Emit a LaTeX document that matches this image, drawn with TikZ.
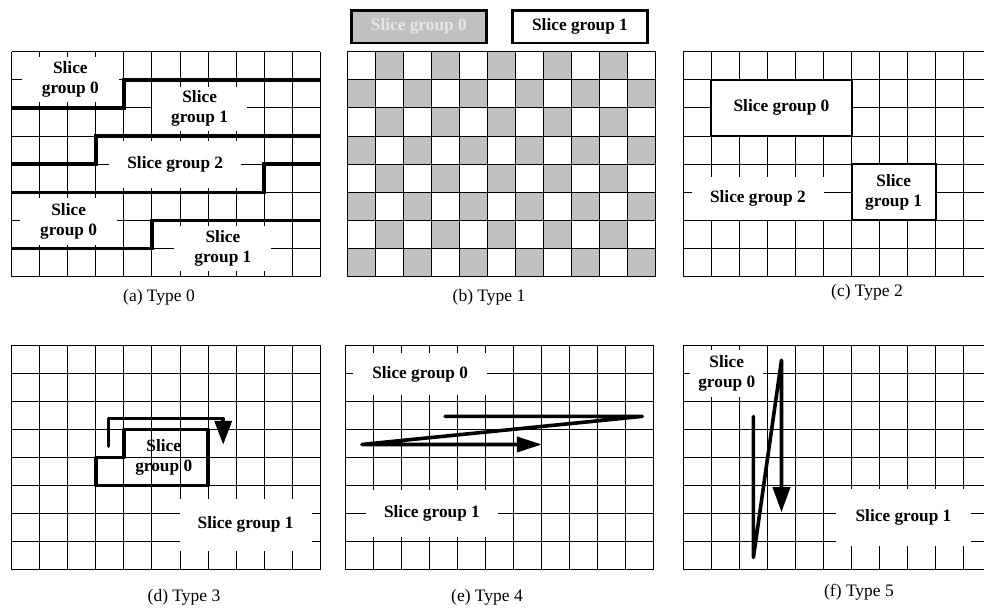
\documentclass[tikz,border=0pt]{standalone}
\usepackage{fontspec}
\setmainfont{Liberation Serif}
\usetikzlibrary{arrows.meta}
\definecolor{sgray}{RGB}{192,192,192}
\definecolor{lgray}{RGB}{232,232,232}
\newcommand{\slicegrid}{%
  \foreach \i in {0,...,11} \draw[gridln] (\i,0) -- (\i,8);
  \foreach \j in {0,...,8} \draw[gridln] (0,\j) -- (11,\j);}

\begin{document}
\begin{tikzpicture}[x=1pt,y=-1pt,
  gridln/.style={line width=1pt},
  border/.style={line width=3.4pt},
  lab/.style={font=\fontsize{17.3}{20}\selectfont\bfseries, align=center, inner sep=0pt},
  wlab/.style={lab, fill=white},
  legbox/.style={lab, draw, line width=2.4pt, minimum width=135pt, minimum height=32.6pt},
  cell/.style={x=28.05pt, y=-28.1pt},
  scanln/.style={line width=3.6pt, line cap=round, line join=round},
  typecap/.style={font=\fontsize{17.5}{20}\selectfont}]
\useasboundingbox (0,0) rectangle (984,610);

\begin{scope}[shift={(11.7,51.7)}, cell]
  \slicegrid
  \node[wlab, minimum width=97pt, minimum height=45pt] (a0) at (2.09,0.99) {Slice\\group 0};
  \node[wlab, minimum width=95pt, minimum height=44pt] (a1) at (6.7,2.03) {Slice\\group 1};
  \node[wlab, minimum width=132pt, minimum height=47pt] (a2) at (5.83,4.0) {Slice group 2};
  \node[wlab, minimum width=97pt, minimum height=47pt] (a3) at (2.03,6.03) {Slice\\group 0};
  \node[wlab, minimum width=97pt, minimum height=45pt] (a4) at (7.53,7.0) {Slice\\group 1};
  \draw[border] (0,2) -- (4,2) -- (4,1) -- (11,1);
  \draw[border] (0,4) -- (3,4) -- (3,3) -- (11,3);
  \draw[border] (0,5) -- (9,5) -- (9,4) -- (11,4);
  \draw[border] (0,7) -- (5,7) -- (5,6) -- (11,6);
\end{scope}

\node[legbox, fill=sgray, text=lgray] (leg0) at (418.8,26.8) {Slice group 0};
\node[legbox, fill=white] (leg1) at (580,26.8) {Slice group 1};
\begin{scope}[shift={(347.3,51.7)}, cell]
  \foreach \r in {0,2,4,6}{
    \foreach \c in {1,3,...,9} \fill[sgray] (\c,\r) rectangle ++(1,1);
    \foreach \c in {0,2,...,10} \fill[sgray] (\c,\r+1) rectangle ++(1,1);}
  \slicegrid
\end{scope}

\begin{scope}[shift={(683.3,51.7)}, cell]
  \slicegrid
  \node[wlab, draw, line width=1.8pt, minimum width=140.25pt, minimum height=56.2pt] (c0) at (3.5,2) {Slice group 0};
  \node[wlab, draw, line width=1.8pt, minimum width=84.15pt, minimum height=56.2pt] (c1) at (7.5,5) {Slice\\group 1};
  \node[wlab, minimum width=132pt, minimum height=43pt] (c2) at (2.66,5.21) {Slice group 2};
\end{scope}

\begin{scope}[shift={(11.7,345)}, cell]
  \slicegrid
  \node[wlab, minimum width=132pt, minimum height=52pt] (d1) at (8.34,6.4) {Slice group 1};
  \draw[border, line join=round] (3,5) -- (3,4) -- (4,4) -- (4,3) -- (7,3) -- (7,5) -- cycle;
  \node[lab] (d0) at (5.42,4.0) {Slice\\group 0};
  \draw[scanln, -{Triangle[length=24pt,width=17pt]}] (3.45,3.6) -- (3.45,2.62) -- (7.54,2.62) -- (7.54,3.55);
\end{scope}

\begin{scope}[shift={(345,345)}, cell]
  \slicegrid
  \node[wlab, minimum width=134pt, minimum height=42pt] (e0) at (2.68,1.04) {Slice group 0};
  \node[wlab, minimum width=132pt, minimum height=47pt] (e1) at (3.1,6.0) {Slice group 1};
  \draw[scanln, -{Triangle[length=25pt,width=15pt]}] (3.57,2.54) -- (10.6,2.54) -- (0.6,3.54) -- (7.02,3.54);
\end{scope}

\begin{scope}[shift={(683.3,345)}, cell]
  \slicegrid
  \node[wlab, minimum width=73pt, minimum height=47pt] (f0) at (1.55,1.0) {Slice\\group 0};
  \node[wlab, minimum width=135pt, minimum height=57pt] (f1) at (7.85,6.15) {Slice group 1};
  \draw[scanln, -{Triangle[length=25pt,width=17pt]}] (2.5,2.54) -- (2.5,7.56) -- (3.5,0.54) -- (3.5,5.95);
\end{scope}

\node[typecap] (capa) at (159,297) {(a) Type 0};
\node[typecap] (capb) at (489,297) {(b) Type 1};
\node[typecap] (capc) at (867,292) {(c) Type 2};
\node[typecap] (capd) at (184,597) {(d) Type 3};
\node[typecap] (cape) at (487,597) {(e) Type 4};
\node[typecap] (capf) at (859,592) {(f) Type 5};
\end{tikzpicture}
\end{document}
